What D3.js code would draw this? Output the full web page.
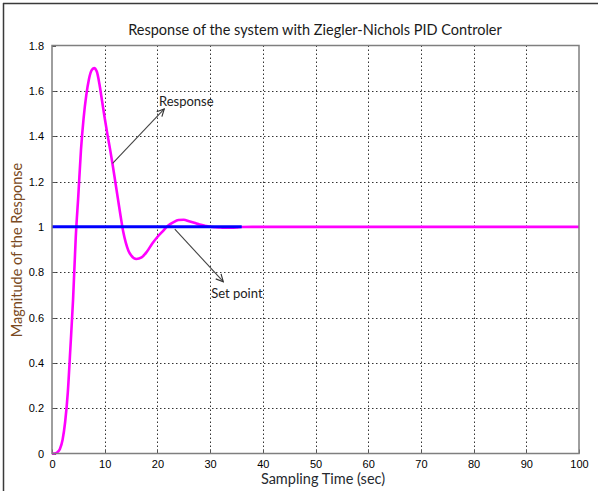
<!DOCTYPE html>
<html>
<head>
<meta charset="utf-8">
<script src="https://cdn.jsdelivr.net/npm/d3@7"></script>
<style>
  html, body { margin: 0; padding: 0; background: #fff; }
  svg { display: block; }
</style>
</head>
<body>
<svg id="chart" width="598" height="491"></svg>
<script>
// ---- data ----
const title = "Response of the system with Ziegler-Nichols PID Controler";
const xLabel = "Sampling Time (sec)";
const yLabel = "Magnitude of the Response";
const xTicks = [0, 10, 20, 30, 40, 50, 60, 70, 80, 90, 100];
const yTicks = [0, 0.2, 0.4, 0.6, 0.8, 1, 1.2, 1.4, 1.6, 1.8];
const yTickLabels = ["0", "0.2", "0.4", "0.6", "0.8", "1", "1.2", "1.4", "1.6", "1.8"];

const responseTime = [0, 0.5, 1, 1.5, 2, 2.5, 3, 3.5, 4, 4.5, 5, 5.5, 6, 6.5, 7, 7.5, 8, 8.5, 9, 9.5, 10, 10.5, 11, 11.5, 12, 12.5, 13, 13.5, 14, 14.5, 15, 16, 17, 18, 19, 20, 21, 22, 23, 24, 25, 26, 27, 28, 29, 30, 31, 32, 33, 34, 35, 36, 38, 100];
const responseValue = [0, 0, 0.005, 0.02, 0.06, 0.14, 0.27, 0.47, 0.68, 0.95, 1.14, 1.34, 1.48, 1.58, 1.65, 1.69, 1.70, 1.685, 1.63, 1.555, 1.48, 1.41, 1.345, 1.275, 1.20, 1.125, 1.05, 0.98, 0.93, 0.895, 0.875, 0.858, 0.865, 0.89, 0.925, 0.955, 0.98, 1.005, 1.02, 1.03, 1.031, 1.025, 1.018, 1.01, 1.005, 1.0, 0.998, 0.997, 0.996, 0.996, 0.997, 0.999, 1.0, 1.0];

const setPointTime = [0, 36];
const setPointValue = [1, 1];

// annotations
const annResponse = { label: "Response", from: [11.5, 1.28], to: [21.3, 1.52], text: [20.3, 1.555] };
const annSetPoint = { label: "Set point", from: [23.3, 0.99], to: [32.5, 0.758], text: [30.2, 0.705] };

// ---- drawing ----
const svg = d3.select("#chart");
const W = 598, H = 491;
const pLeft = 52, pRight = 579, pTop = 45.5, pBottom = 453.5;

const x = d3.scaleLinear().domain([0, 100]).range([pLeft, pRight]);
const y = d3.scaleLinear().domain([0, 1.8]).range([pBottom, pTop]);

// outer screenshot frame (top & left)
svg.append("line").attr("x1", 3).attr("x2", W).attr("y1", 3.5).attr("y2", 3.5)
  .attr("stroke", "#3a3a3a").attr("stroke-width", 1.5);
svg.append("line").attr("x1", 3.5).attr("x2", 3.5).attr("y1", 3).attr("y2", H)
  .attr("stroke", "#3a3a3a").attr("stroke-width", 1.5);

// grid
const grid = svg.append("g").attr("stroke", "#333").attr("stroke-width", 1)
  .attr("stroke-dasharray", "1.5,2.5");
grid.selectAll("line.v").data(xTicks.filter(d => d > 0 && d < 100)).join("line")
  .attr("x1", d => Math.round(x(d)) + 0.5).attr("x2", d => Math.round(x(d)) + 0.5)
  .attr("y1", pTop).attr("y2", pBottom);
grid.selectAll("line.h").data(yTicks.filter(d => d > 0 && d < 1.8)).join("line")
  .attr("x1", pLeft).attr("x2", pRight)
  .attr("y1", d => Math.round(y(d)) + 0.5).attr("y2", d => Math.round(y(d)) + 0.5);

// axes (labels only)
const fmt = d => yTickLabels[yTicks.indexOf(d)];
const xAxis = svg.append("g").attr("transform", `translate(0,${pBottom})`)
  .call(d3.axisBottom(x).tickValues(xTicks).tickSize(0).tickPadding(7));
const yAxis = svg.append("g").attr("transform", `translate(${pLeft},0)`)
  .call(d3.axisLeft(y).tickValues(yTicks).tickFormat(fmt).tickSize(0).tickPadding(8));
[xAxis, yAxis].forEach(a => {
  a.select(".domain").remove();
  a.selectAll("text").attr("font-family", "Liberation Sans, Arial, sans-serif")
    .attr("font-size", 11).attr("fill", "#000");
});

// small inner tick marks
const ticks = svg.append("g").attr("stroke", "#555").attr("stroke-width", 1);
ticks.selectAll("line.xt").data(xTicks).join("line")
  .attr("x1", d => Math.round(x(d)) + 0.5).attr("x2", d => Math.round(x(d)) + 0.5)
  .attr("y1", pBottom).attr("y2", pBottom - 4);
ticks.selectAll("line.yt").data(yTicks).join("line")
  .attr("x1", pLeft).attr("x2", pLeft + 4)
  .attr("y1", d => Math.round(y(d)) + 0.5).attr("y2", d => Math.round(y(d)) + 0.5);

// lines
const respData = responseTime.map((t, i) => [t, responseValue[i]]);
const spData = setPointTime.map((t, i) => [t, setPointValue[i]]);

svg.append("path").datum(respData)
  .attr("d", d3.line().x(d => x(d[0])).y(d => y(d[1])).curve(d3.curveMonotoneX))
  .attr("fill", "none").attr("stroke", "#ff00ff").attr("stroke-width", 2.6);
svg.append("path").datum(spData)
  .attr("d", d3.line().x(d => x(d[0])).y(d => y(d[1])))
  .attr("fill", "none").attr("stroke", "#0000ff").attr("stroke-width", 3);

// plot frame
svg.append("rect").attr("x", pLeft).attr("y", pTop).attr("width", pRight - pLeft).attr("height", pBottom - pTop)
  .attr("fill", "none").attr("stroke", "#7f7f7f").attr("stroke-width", 1.5);

// arrows
const defs = svg.append("defs");
defs.append("marker").attr("id", "arr").attr("viewBox", "0 0 10 10")
  .attr("refX", 9).attr("refY", 5).attr("markerWidth", 9).attr("markerHeight", 9)
  .attr("markerUnits", "userSpaceOnUse").attr("orient", "auto")
  .append("path").attr("d", "M1,1 L9,5 L1,9").attr("fill", "none")
  .attr("stroke", "#333").attr("stroke-width", 1.3);

[annResponse, annSetPoint].forEach(a => {
  svg.append("line")
    .attr("x1", x(a.from[0])).attr("y1", y(a.from[1]))
    .attr("x2", x(a.to[0])).attr("y2", y(a.to[1]))
    .attr("stroke", "#444").attr("stroke-width", 1.1).attr("marker-end", "url(#arr)");
  svg.append("text").attr("x", x(a.text[0])).attr("y", y(a.text[1]))
    .attr("dy", "0.35em")
    .attr("font-family", "Lato, 'Open Sans', sans-serif").attr("font-size", 13)
    .attr("fill", "#222").text(a.label);
});

// title & axis labels
svg.append("text").attr("x", 315).attr("y", 30).attr("dy", "0.35em")
  .attr("text-anchor", "middle").attr("font-family", "Lato, 'Open Sans', sans-serif")
  .attr("font-size", 14.5).attr("fill", "#1a1a1a").text(title);
svg.append("text").attr("x", 323).attr("y", 479).attr("dy", "0.35em")
  .attr("text-anchor", "middle").attr("font-family", "Lato, 'Open Sans', sans-serif")
  .attr("font-size", 14.5).attr("fill", "#262a30").text(xLabel);
svg.append("text").attr("transform", "translate(17,250) rotate(-90)").attr("dy", "0.35em")
  .attr("text-anchor", "middle").attr("font-family", "Lato, 'Open Sans', sans-serif")
  .attr("font-size", 14.5).attr("fill", "#7a4a22").text(yLabel);
</script>
</body>
</html>
